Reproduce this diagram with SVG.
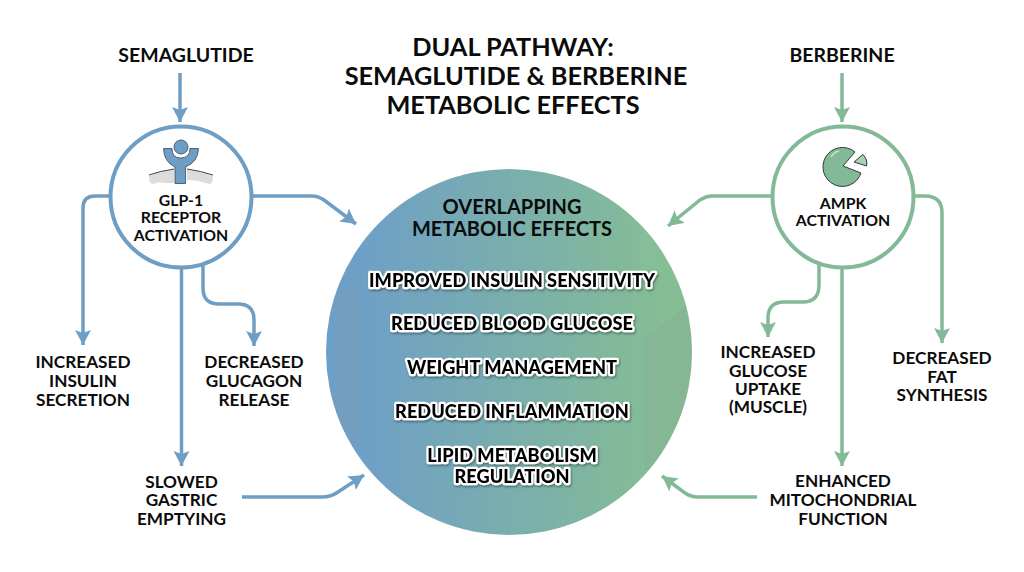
<svg xmlns="http://www.w3.org/2000/svg" width="1024" height="572" viewBox="0 0 1024 572">
<style>
text{font-family:Lato,"Noto Sans","Liberation Sans",sans-serif;font-weight:700;fill:#0b0b0b;text-anchor:middle;font-size:17.200px}
.t{font-size:25.300px}
.h{font-size:19.500px}
.c{font-size:15.800px}
.o{font-size:20px}
.e{font-size:18.200px;font-weight:900;fill:#000;stroke:#fff;stroke-width:4.500px;stroke-linejoin:round;paint-order:stroke;filter:url(#sh)}
.b{fill:none;stroke:#6f9ec4;stroke-width:3.500}
.g{fill:none;stroke:#84b997;stroke-width:3.500}
.n{fill:#fff;stroke-width:4}
</style>
<defs>
<linearGradient id="grad" x1="0" y1="0" x2="1" y2="0"><stop offset=".08" stop-color="#6e9fc7"/><stop offset=".92" stop-color="#85bd94"/></linearGradient>
<clipPath id="cc"><circle cx="509" cy="352" r="183"/></clipPath>
<filter id="sh" x="-10%" y="-30%" width="120%" height="160%"><feDropShadow dx="1" dy="1.500" stdDeviation="1" flood-color="#000" flood-opacity=".4"/></filter>
<marker id="ab" markerUnits="userSpaceOnUse" markerWidth="18" markerHeight="18" refX="15" refY="8" orient="auto"><path d="M0 0L15 8L0 16L3 8Z" fill="#6f9ec4"/></marker>
<marker id="ag" markerUnits="userSpaceOnUse" markerWidth="18" markerHeight="18" refX="15" refY="8" orient="auto"><path d="M0 0L15 8L0 16L3 8Z" fill="#84b997"/></marker>
</defs>
<rect width="1024" height="572" fill="#fff"/>
<g id="connectors">
<path class="b" marker-end="url(#ab)" d="M180 73V122"/>
<path class="b" marker-end="url(#ab)" d="M110 196H95Q83 196 83 208V345"/>
<path class="b" marker-end="url(#ab)" d="M252 196H312Q318 196 324 200L356 224"/>
<path class="b" marker-end="url(#ab)" d="M181.500 266V466"/>
<path class="b" marker-end="url(#ab)" d="M203 266V288Q203 304 219 304H238Q254 304 254 320V346"/>
<path class="b" marker-end="url(#ab)" d="M242 497H322Q331 497 338 492L364 475"/>
<path class="g" marker-end="url(#ag)" d="M842 73V122"/>
<path class="g" marker-end="url(#ag)" d="M771 196H712Q706 196 700 200L668 226"/>
<path class="g" marker-end="url(#ag)" d="M915 196H925Q942 196 942 213V343"/>
<path class="g" marker-end="url(#ag)" d="M842 267V466"/>
<path class="g" marker-end="url(#ag)" d="M819 265V285Q819 302 803 302H784Q768 302 768 318V337"/>
<path class="g" marker-end="url(#ag)" d="M757 497H698Q691 497 685 493L662 476"/>
</g>
<g id="title"><text class="t" x="513" y="56">DUAL PATHWAY:</text><text class="t" x="516" y="85">SEMAGLUTIDE &amp; BERBERINE</text><text class="t" x="513" y="114">METABOLIC EFFECTS</text></g>
<g id="semaglutide"><text x="186" y="62" class="h">SEMAGLUTIDE</text></g>
<g id="berberine"><text x="842" y="62" class="h">BERBERINE</text></g>
<g id="glp1">
<circle class="b n" cx="181" cy="197" r="70.500"/>
<path d="M149 176Q160 171 174 169V183H165Q158 181 153 184Q149 184 149 176ZM187 169Q201 171 213 176Q213 184 209 184Q198 180 187 180Z" fill="#dcdcdc"/>
<path d="M149 175Q160 171 174 169M187 169Q201 171 213 175" fill="none" stroke="#444" stroke-width="1"/>
<path d="M163.500 148.500H172Q172 158 180.500 158Q190 158 190 148.500H198.500Q198 162 185.500 167V183.500H175V167Q164 162 163.500 148.500Z" fill="#6f9ec4" stroke="#33475a" stroke-width=".8"/>
<circle cx="181" cy="147" r="7" fill="#6f9ec4" stroke="#33475a" stroke-width=".8"/>
<text class="c" x="181" y="206">GLP-1</text><text class="c" x="181" y="223">RECEPTOR</text><text class="c" x="181" y="241">ACTIVATION</text>
</g>
<g id="ampk">
<circle class="g n" cx="843" cy="197" r="70.500"/>
<path d="M855 152A19.500 19.500 0 1 0 861 173L843 166Z" fill="#84b997" stroke="#2f3d36" stroke-width="1"/>
<path d="M831 157Q834 152 839 151" fill="none" stroke="#c5e2cd" stroke-width="1.500"/>
<path d="M854 162L863 154.500Q868 160 866.500 166Z" fill="#a9d0b5" stroke="#2f3d36" stroke-width="1"/>
<text class="c" x="843" y="209">AMPK</text><text class="c" x="843" y="226">ACTIVATION</text>
</g>
<g id="overlap">
<circle cx="509" cy="352" r="183" fill="url(#grad)"/>
<g clip-path="url(#cc)" opacity=".35"><path d="M340 290L355 280L362 300V440H335V300Z" fill="#7d9fb5"/><path d="M645 340L692 300V480L645 470Z" fill="#86ad96"/><path d="M640 215L665 225L660 270L640 280Z" fill="#8ac79a"/></g>
<text class="o" x="512" y="214">OVERLAPPING</text><text class="o" x="512" y="236">METABOLIC EFFECTS</text>
<text class="e" x="512" y="287">IMPROVED INSULIN SENSITIVITY</text>
<text class="e" x="512" y="330">REDUCED BLOOD GLUCOSE</text>
<text class="e" x="512" y="374">WEIGHT MANAGEMENT</text>
<text class="e" x="512" y="418">REDUCED INFLAMMATION</text>
<text class="e" x="512" y="462">LIPID METABOLISM</text>
<text class="e" x="512" y="483">REGULATION</text>
</g>
<g id="insulin"><text x="83" y="368">INCREASED</text><text x="83" y="387">INSULIN</text><text x="83" y="406">SECRETION</text></g>
<g id="glucagon"><text x="254" y="368">DECREASED</text><text x="254" y="387">GLUCAGON</text><text x="254" y="406">RELEASE</text></g>
<g id="gastric"><text x="181.500" y="488">SLOWED</text><text x="181.500" y="506">GASTRIC</text><text x="181.500" y="525">EMPTYING</text></g>
<g id="uptake"><text x="768" y="358">INCREASED</text><text x="768" y="377">GLUCOSE</text><text x="768" y="395">UPTAKE</text><text x="768" y="413">(MUSCLE)</text></g>
<g id="fat"><text x="942" y="364">DECREASED</text><text x="942" y="383">FAT</text><text x="942" y="401">SYNTHESIS</text></g>
<g id="mito"><text x="843" y="487">ENHANCED</text><text x="843" y="506">MITOCHONDRIAL</text><text x="843" y="525">FUNCTION</text></g>
</svg>
